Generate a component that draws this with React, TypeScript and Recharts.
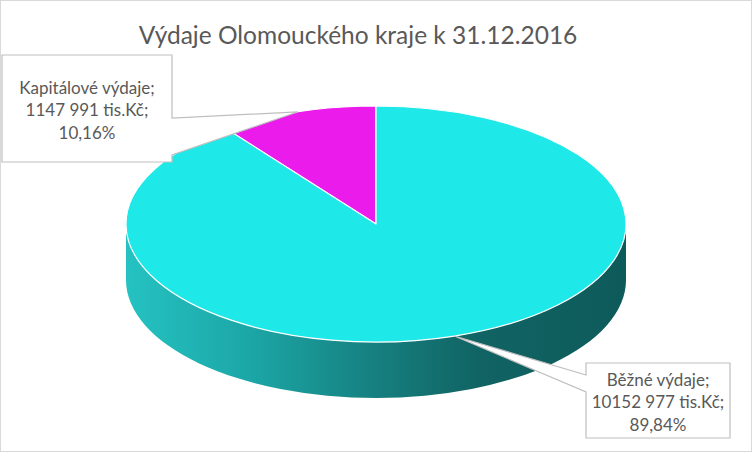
import { PieChart, Pie, Cell } from 'recharts';

const categories = ['Kapitálové výdaje', 'Běžné výdaje'];
const values = [1147991, 10152977];
const colors = ['#EB1CEB', '#1EE8E8'];
const unit = 'tis.Kč';
const title = 'Výdaje Olomouckého kraje k 31.12.2016';

const data = categories.map((name, i) => ({ name, value: values[i] }));

const W = 752;
const H = 452;
const TILT = 0.472; // vertical squash of the top ellipse
const DEPTH = 56;
const RAD = Math.PI / 180;
const FONT = 'Lato, "Open Sans", sans-serif';
const TEXT = '#595959';

// callout boxes (wedge side + where the wedge leaves the box)
const BOXES = [
  { x: 2, y: 55, w: 170, h: 107, side: 'right', a1: 118, a2: 155, lines: [88, 110, 133] },
  { x: 586, y: 363, w: 144, h: 75, side: 'left', a1: 375, a2: 392, lines: [380, 402, 425] },
];

const pt = (cx: number, cy: number, rx: number, ry: number, a: number) => [
  cx + rx * Math.cos(a * RAD),
  cy - ry * Math.sin(a * RAD),
];

const fmtValue = (v: number) => `${Math.floor(v / 1000)} ${String(v % 1000).padStart(3, '0')}`;
const fmtPct = (p: number) => `${(p * 100).toFixed(2).replace('.', ',')}%`;

function TopShape(p: any) {
  const { cx, cy, outerRadius: r, startAngle: s, endAngle: e, fill } = p;
  const ry = r * TILT;
  const [x1, y1] = pt(cx, cy, r, ry, s);
  const [x2, y2] = pt(cx, cy, r, ry, e);
  const large = Math.abs(e - s) > 180 ? 1 : 0;
  const sweep = e > s ? 0 : 1;
  return (
    <path
      d={`M${cx},${cy}L${x1},${y1}A${r},${ry} 0 ${large} ${sweep} ${x2},${y2}Z`}
      fill={fill}
      stroke="#fff"
      strokeWidth={1.2}
      strokeLinejoin="round"
    />
  );
}

function SideShape(p: any) {
  const { cx, cy, outerRadius: r, fill } = p;
  const s = Math.min(p.startAngle, p.endAngle);
  const e = Math.max(p.startAngle, p.endAngle);
  const ry = r * TILT;
  const parts: JSX.Element[] = [];
  [0, 360, 720].forEach((k) => {
    const a = Math.max(s, 180 + k);
    const b = Math.min(e, 360 + k);
    if (b <= a) return;
    const m = (a + b) / 2;
    const [ax, ay] = pt(cx, cy, r, ry, a);
    const [mx, my] = pt(cx, cy, r, ry, m);
    const [bx, by] = pt(cx, cy, r, ry, b);
    const d =
      `M${ax},${ay}A${r},${ry} 0 0 0 ${mx},${my}A${r},${ry} 0 0 0 ${bx},${by}` +
      `L${bx},${by + DEPTH}A${r},${ry} 0 0 1 ${mx},${my + DEPTH}A${r},${ry} 0 0 1 ${ax},${ay + DEPTH}Z`;
    parts.push(<path key={k} d={d} fill={fill} />);
  });
  return <g>{parts}</g>;
}

function Callout(p: any) {
  const { cx, cy, outerRadius: r, midAngle, index, percent, value, name } = p;
  const b = BOXES[index];
  if (!b) return null;
  const [tx, ty] = pt(cx, cy, r, r * TILT, midAngle);
  const R = b.x + b.w;
  const B = b.y + b.h;
  const d =
    b.side === 'right'
      ? `M${b.x},${b.y}H${R}V${b.a1}L${tx},${ty}L${R},${b.a2}V${B}H${b.x}Z`
      : `M${b.x},${b.y}H${R}V${B}H${b.x}V${b.a2}L${tx},${ty}L${b.x},${b.a1}Z`;
  const mid = b.x + b.w / 2;
  const texts = [`${name};`, `${fmtValue(value)} ${unit};`, fmtPct(percent)];
  return (
    <g>
      <path d={d} fill="#fff" stroke="#bfbfbf" strokeWidth={1.2} />
      {texts.map((t, i) => (
        <text
          key={i}
          x={mid}
          y={b.lines[i]}
          dy="0.35em"
          textAnchor="middle"
          fill={TEXT}
          fontSize={17}
          fontFamily={FONT}
        >
          {t}
        </text>
      ))}
    </g>
  );
}

export default function App() {
  return (
    <div style={{ position: 'relative', width: W, height: H, background: '#fff' }}>
      <style>{`body{margin:0}`}</style>
      <div
        style={{
          position: 'absolute',
          left: 0,
          top: 0,
          width: W,
          height: H,
          boxSizing: 'border-box',
          border: '1.5px solid #d9d9d9',
        }}
      />
      <div
        style={{
          position: 'absolute',
          left: 0,
          top: 18,
          width: 716,
          textAlign: 'center',
          fontFamily: FONT,
          fontSize: 24.5,
          color: TEXT,
          lineHeight: '34px',
        }}
      >
        {title}
      </div>
      <div style={{ position: 'absolute', left: 0, top: 0 }}>
        <PieChart width={W} height={H} margin={{ top: 0, right: 0, bottom: 0, left: 0 }}>
          <defs>
            <linearGradient id="side0" x1="0" y1="0" x2="1" y2="0">
              <stop offset="0%" stopColor="#b015b0" />
              <stop offset="100%" stopColor="#5a0a5a" />
            </linearGradient>
            <linearGradient id="side1" x1="126" y1="0" x2="626" y2="0" gradientUnits="userSpaceOnUse">
              <stop offset="0%" stopColor="#25c2c2" />
              <stop offset="25%" stopColor="#1ca6a6" />
              <stop offset="50%" stopColor="#167f7f" />
              <stop offset="70%" stopColor="#116464" />
              <stop offset="100%" stopColor="#0e5a5a" />
            </linearGradient>
          </defs>
          <Pie
            data={data}
            dataKey="value"
            nameKey="name"
            cx={376}
            cy={224}
            outerRadius={250}
            startAngle={90}
            endAngle={450}
            isAnimationActive={false}
            shape={SideShape}
            labelLine={false}
            label={false}
            stroke="none"
          >
            {data.map((_, i) => (
              <Cell key={i} fill={`url(#side${i})`} />
            ))}
          </Pie>
          <Pie
            data={data}
            dataKey="value"
            nameKey="name"
            cx={376}
            cy={224}
            outerRadius={250}
            startAngle={90}
            endAngle={450}
            isAnimationActive={false}
            shape={TopShape}
            labelLine={false}
            label={Callout}
          >
            {data.map((_, i) => (
              <Cell key={i} fill={colors[i]} />
            ))}
          </Pie>
        </PieChart>
      </div>
    </div>
  );
}
